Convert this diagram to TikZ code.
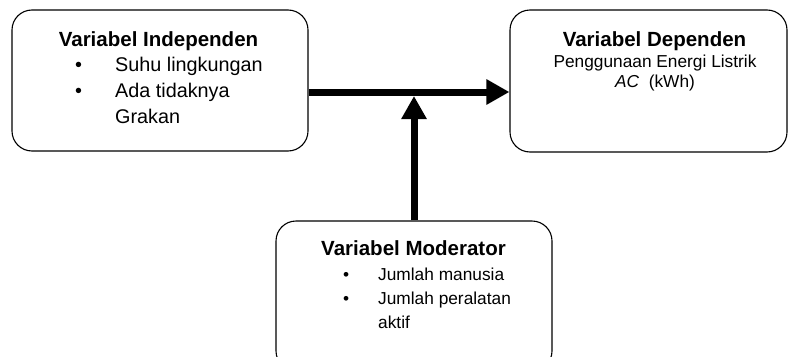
\documentclass[tikz,border=0pt]{standalone}
\usepackage{fontspec}
\setmainfont{Liberation Sans}
\usetikzlibrary{arrows.meta,positioning}

\begin{document}
\begin{tikzpicture}[x=1pt,y=-1pt,
  varbox/.style={draw,line width=1.1pt,rounded corners=20pt,inner sep=0pt},
  flow/.style={line width=7pt,-{Triangle[length=23pt,width=24pt]}},
  title/.style={anchor=base,inner sep=0pt,font=\fontsize{20.5}{24}\selectfont\bfseries},
  items/.style={align=left,inner sep=0pt}]
  % Frame
  \useasboundingbox (0,0) rectangle (789,356);
  \clip (0,0) rectangle (789,356);
  % Boxes
  \node[varbox,minimum width=296pt,minimum height=141pt] (indep) at (160,80.5) {};
  \node[varbox,minimum width=277pt,minimum height=142pt] (dep) at (648.5,81) {};
  \node[varbox,minimum width=276pt,minimum height=150pt] (moder) at (414,296) {};
  % Texts (base = last line)
  \node[title] (indepTitle) at (158.5,46.7) {Variabel Independen};
  \node[items,anchor=base west,font=\fontsize{19.8}{26}\selectfont] (indepList) at (75,123)
    {\makebox[40pt][l]{\textbullet}Suhu lingkungan\\
     \makebox[40pt][l]{\textbullet}Ada tidaknya\\
     \hspace*{40pt}Grakan};
  \node[title] (depTitle) at (654.5,46.7) {Variabel Dependen};
  \node[items,align=center,anchor=base,font=\fontsize{17.3}{19.5}\selectfont] (depList) at (655,87)
    {Penggunaan Energi Listrik\\ \textit{AC}~ (kWh)};
  \node[title] (moderTitle) at (413.5,255) {Variabel Moderator};
  \node[items,anchor=base west,font=\fontsize{17.3}{24}\selectfont] (moderList) at (343,328)
    {\makebox[35pt][l]{\textbullet}Jumlah manusia\\
     \makebox[35pt][l]{\textbullet}Jumlah peralatan\\
     \hspace*{35pt}aktif};
  % Arrows
  \coordinate (meet) at (413,92);
  \coordinate (tipv) at (413,96);
  \draw[flow] (indep.east |- meet) -- (dep.west |- meet);
  \draw[flow] (moder.north) -- (moder.north |- tipv);
\end{tikzpicture}
\end{document}
